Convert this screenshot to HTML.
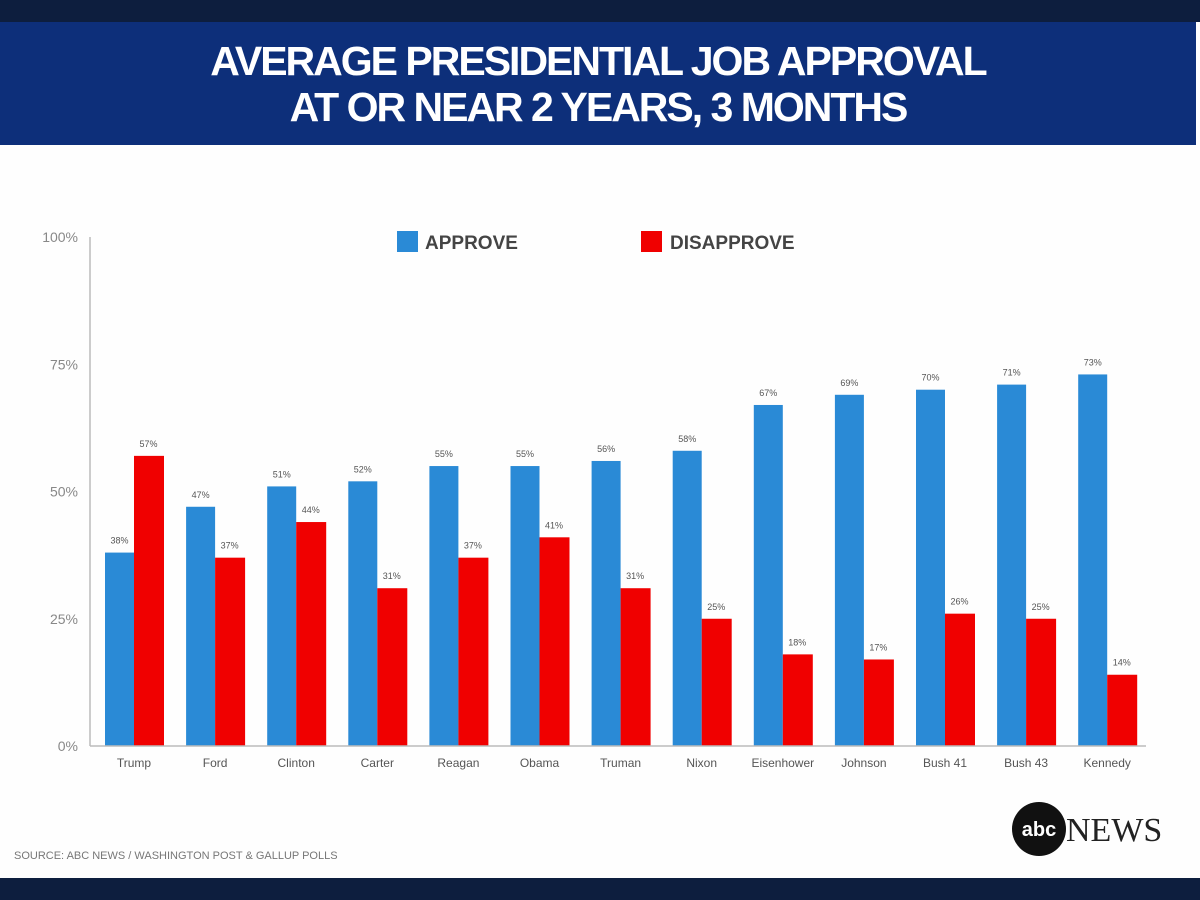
<!DOCTYPE html>
<html><head><meta charset="utf-8"><style>
body{margin:0;width:1200px;height:900px;background:#fefefe;position:relative;overflow:hidden;font-family:"Liberation Sans",sans-serif}
.top{position:absolute;left:0;top:0;width:1200px;height:22px;background:#0d1e3e}
.hdr{position:absolute;left:0;top:22px;width:1196px;height:123px;background:#0d2f7a;color:#fff;text-align:center;font-weight:bold;font-size:41px;line-height:46px;letter-spacing:-2px;padding-top:16px;box-sizing:border-box}
.bot{position:absolute;left:0;top:878px;width:1200px;height:22px;background:#0d1e3e}
</style></head><body>
<div class="top"></div>
<div class="hdr">AVERAGE PRESIDENTIAL JOB APPROVAL<br>AT OR NEAR 2 YEARS, 3 MONTHS</div>
<svg id="c" width="1200" height="900" style="position:absolute;left:0;top:0">
<rect x="397" y="231" width="21" height="21" fill="#2a8ad6"/>
<text x="425" y="249" font-size="19" font-weight="bold" fill="#444">APPROVE</text>
<rect x="641" y="231" width="21" height="21" fill="#f00000"/>
<text x="670" y="249" font-size="19" font-weight="bold" fill="#444">DISAPPROVE</text>
<text x="14" y="859" font-size="11" fill="#777">SOURCE: ABC NEWS / WASHINGTON POST &amp; GALLUP POLLS</text>
<circle cx="1039" cy="829" r="27" fill="#111"/>
<text x="1039" y="836" font-size="20" font-weight="bold" fill="#fff" text-anchor="middle">abc</text>
<text x="1066" y="841" font-size="34" font-family="Liberation Serif,serif" fill="#222">NEWS</text>
</svg>
<div class="bot"></div>
<script>
const categories=["Trump","Ford","Clinton","Carter","Reagan","Obama","Truman","Nixon","Eisenhower","Johnson","Bush 41","Bush 43","Kennedy"];
const approve=[38,47,51,52,55,55,56,58,67,69,70,71,73];
const disapprove=[57,37,44,31,37,41,31,25,18,17,26,25,14];
const ticks=[0,25,50,75,100];
const svg=document.getElementById('c');const NS='http://www.w3.org/2000/svg';
const y0=746,y1=237,x0=90,step=81.1,c0=134,bw=29;
const Y=v=>y0-(v/100)*(y0-y1);const X=i=>c0+i*step;
function mk(t,a){const e=document.createElementNS(NS,t);for(const k in a)e.setAttribute(k,a[k]);svg.appendChild(e);return e;}
ticks.forEach(t=>{const e=mk('text',{x:x0-12,y:Y(t)+5,'font-size':14,fill:'#888','text-anchor':'end'});e.textContent=t+'%';

});
let ax=mk('line',{x1:x0,y1:y1,x2:x0,y2:y0,stroke:'#bbb','stroke-width':1.5});


categories.forEach((c,i)=>{
 const cx=X(i);
 let a=mk('rect',{x:cx-bw,y:Y(approve[i]),width:bw,height:y0-Y(approve[i]),fill:'#2a8ad6'});
 
 
 let d=mk('rect',{x:cx,y:Y(disapprove[i]),width:bw+1,height:y0-Y(disapprove[i]),fill:'#f00000'});
 
 
 let la=mk('text',{x:cx-bw/2,y:Y(approve[i])-9,'font-size':9,fill:'#555','text-anchor':'middle'});la.textContent=approve[i]+'%';
 
 
 let ld=mk('text',{x:cx+bw/2,y:Y(disapprove[i])-9,'font-size':9,fill:'#555','text-anchor':'middle'});ld.textContent=disapprove[i]+'%';
 
 
 let cl=mk('text',{x:cx,y:767,'font-size':12,fill:'#555','text-anchor':'middle'});cl.textContent=c;
 
 
});
let bl=mk('line',{x1:x0,y1:y0,x2:1146,y2:y0,stroke:'#bbb','stroke-width':1.5});


</script>
</body></html>
